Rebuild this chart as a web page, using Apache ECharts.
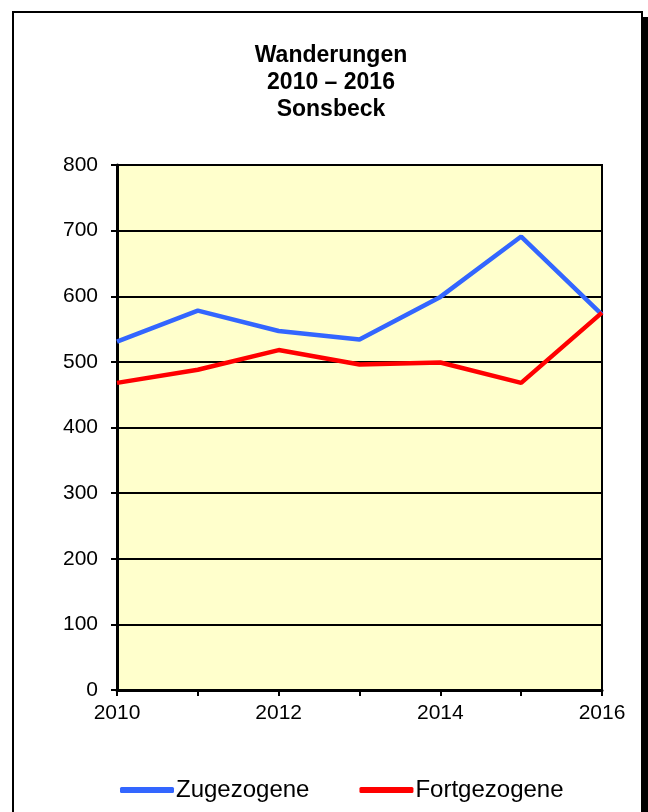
<!DOCTYPE html>
<html><head><meta charset="utf-8">
<script src="https://cdn.jsdelivr.net/npm/echarts@6/dist/echarts.min.js"></script>
<style>html,body{margin:0;padding:0;background:#fff}#c{width:648px;height:812px}</style>
</head><body><div id="c"></div>
<script>
var categories = ['2010','2011','2012','2013','2014','2015','2016'];
var zugezogene = [531, 578, 547, 534, 599, 691, 572];
var fortgezogene = [468, 488, 518, 496, 499, 468, 575];
var yTicks = [0,100,200,300,400,500,600,700,800];
var titleText = 'Wanderungen\n2010 – 2016\nSonsbeck';

var chart = echarts.init(document.getElementById('c'));
var font = 'Liberation Sans, Arial, sans-serif';
chart.setOption({
  animation: false,
  backgroundColor: '#fff',
  graphic: [
    {type:'rect', shape:{x:642, y:17, width:6, height:800}, style:{fill:'#000'}, z:-1},
    {type:'rect', shape:{x:13, y:12, width:629, height:810}, style:{fill:'#fff', stroke:'#000', lineWidth:2}, z:-1},
    {type:'text', x:331, y:42, z:10,
     style:{text:titleText, fill:'#000', font:'bold 23px Liberation Sans, Arial, sans-serif', lineHeight:27, align:'center', verticalAlign:'top'}}
  ],
  legend: {
    top: 778, left: 120, padding: 0,
    itemGap: 50, itemWidth: 54, itemHeight: 6,
    icon: 'roundRect',
    textStyle: {fontFamily: font, fontSize: 24, color: '#000', padding:[0,0,0,-3]},
    data: ['Zugezogene','Fortgezogene']
  },
  grid: {left: 117, right: 46, top: 165, bottom: 122, show: true, backgroundColor: '#FFFFCC', borderColor: '#000', borderWidth: 2},
  xAxis: {
    type: 'category', data: categories, boundaryGap: false,
    axisLine: {lineStyle: {color: '#000', width: 3}},
    axisTick: {show: true, length: 6, interval: 0, lineStyle: {color:'#000', width: 2}},
    axisLabel: {interval: 1, fontFamily: font, fontSize: 21, color: '#000', margin: 13},
    splitLine: {show: false}
  },
  yAxis: {
    type: 'value', min: yTicks[0], max: yTicks[yTicks.length-1], interval: 100,
    axisLine: {show: true, lineStyle: {color: '#000', width: 3}},
    axisTick: {show: true, length: 6, lineStyle: {color:'#000', width: 2}},
    axisLabel: {fontFamily: font, fontSize: 21, color: '#000', margin: 19},
    splitLine: {show: true, lineStyle: {color: '#000', width: 2}}
  },
  series: [
    {name: 'Zugezogene', type: 'line', data: zugezogene, symbol: 'none', color: '#3366FF', lineStyle: {width: 4.5, color: '#3366FF'}, z: 3},
    {name: 'Fortgezogene', type: 'line', data: fortgezogene, symbol: 'none', color: '#FF0000', lineStyle: {width: 4.5, color: '#FF0000'}, z: 4}
  ]
});
</script></body></html>
